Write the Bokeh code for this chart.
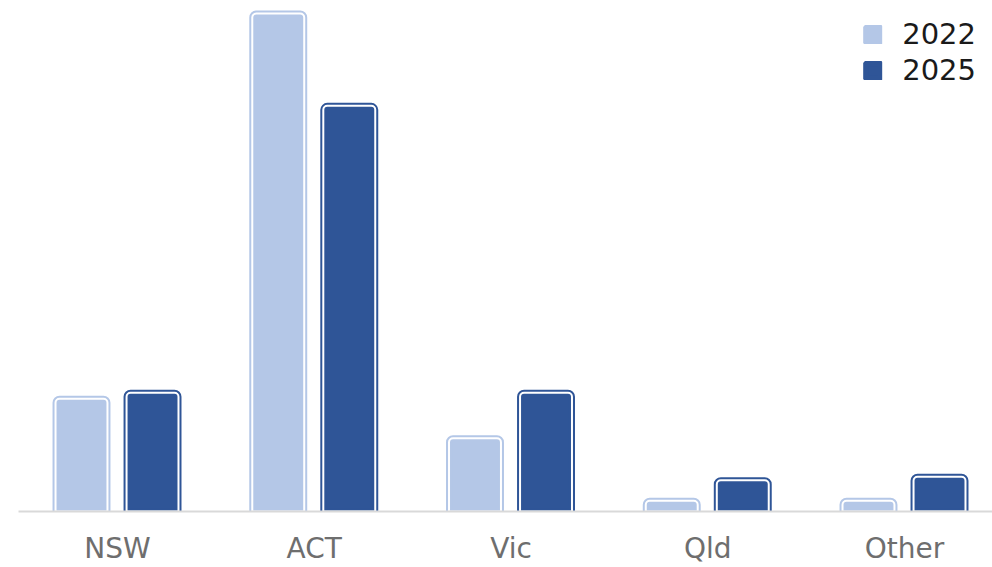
from bokeh.plotting import figure
from bokeh.models import Range1d, FixedTicker, Legend, LegendItem, ColumnDataSource
from bokeh.transform import dodge
from bokeh.embed import file_html
from bokeh.resources import INLINE

categories = ["NSW", "ACT", "Vic", "Qld", "Other"]
years = ["2022", "2025"]
values_2022 = [9.4, 41.5, 6.1, 0.9, 0.9]
values_2025 = [9.9, 33.8, 9.9, 2.6, 2.9]

color_2022 = "#b4c7e7"
color_2025 = "#2f5597"

src = ColumnDataSource(dict(
    x=list(range(len(categories))),
    cat=categories,
    v2022=values_2022,
    v2025=values_2025,
))

p = figure(width=992, height=567, output_backend="svg", toolbar_location=None,
           x_range=Range1d(-0.5032, 4.4473), y_range=Range1d(0, 42.58),
           y_axis_location=None, min_border_left=18, min_border_right=0,
           min_border_top=0, min_border_bottom=56)
p.outline_line_color = None
p.grid.visible = False
p.background_fill_color = "white"
p.border_fill_color = "white"

bw = 0.264
outer = []
for col, off, c in (("v2022", -0.183, color_2022), ("v2025", 0.178, color_2025)):
    xx = dodge("x", off, range=p.x_range)
    r = p.vbar(x=xx, top=col, width=bw, bottom=0, source=src, fill_color=c,
               line_color=c, line_width=6, border_radius=(4, 4, 0, 0))
    p.vbar(x=xx, top=col, width=bw, bottom=0, source=src, fill_alpha=0,
           line_color="white", line_width=2, border_radius=(4, 4, 0, 0))
    outer.append(r)

legend = Legend(items=[LegendItem(label=years[0], renderers=[outer[0]], index=0),
                       LegendItem(label=years[1], renderers=[outer[1]], index=0)],
                location="top_right", margin=16, padding=0, spacing=0,
                glyph_width=19, glyph_height=19, label_height=36,
                label_standoff=20, label_text_font="DejaVu Sans",
                label_text_font_size="29px", label_text_color="#1a1a1a",
                background_fill_alpha=0, border_line_color=None)
p.add_layout(legend)

ax = p.xaxis[0]
ax.ticker = FixedTicker(ticks=list(range(len(categories))))
ax.major_label_overrides = {i: c for i, c in enumerate(categories)}
ax.axis_line_color = "#d9d9d9"
ax.axis_line_width = 2
ax.major_tick_line_color = None
ax.minor_tick_line_color = None
ax.major_tick_out = 0
ax.major_tick_in = 0
ax.minor_tick_out = 0
ax.minor_tick_in = 0
ax.axis_label_standoff = 0
ax.major_label_text_font = "DejaVu Sans"
ax.major_label_text_font_size = "28px"
ax.major_label_text_color = "#6e6e6e"
ax.major_label_standoff = 20

open("out.html", "w").write(file_html(p, INLINE))
